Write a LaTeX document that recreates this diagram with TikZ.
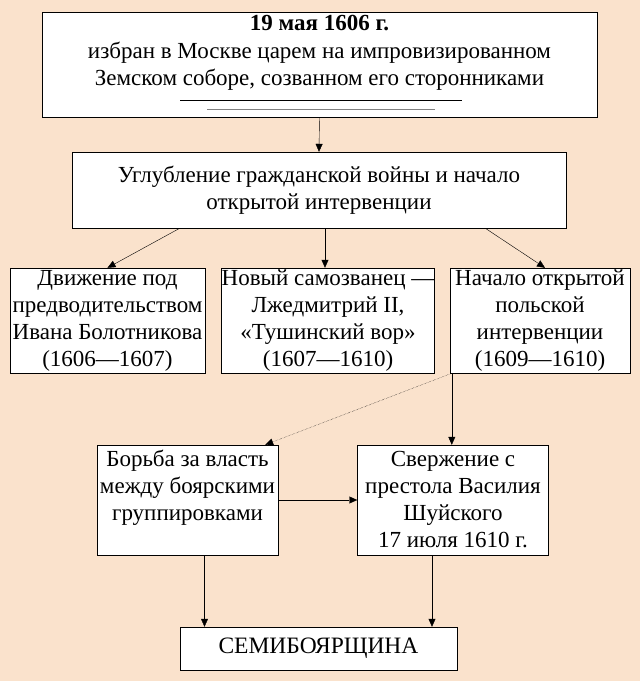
\documentclass[tikz,border=0pt]{standalone}
\usepackage{fontspec}
\setmainfont{Liberation Serif}
\usetikzlibrary{arrows.meta}
\definecolor{peach}{RGB}{250,226,204}
\tikzset{box/.style={draw,fill=white,align=center,inner sep=0pt,font=\fontsize{23}{27}\selectfont}}
\tikzset{link/.style={-{Triangle[length=8pt,width=7pt]},thin}}
\begin{document}
\begin{tikzpicture}[x=1pt,y=-1pt]
    \fill[peach] (0,0) rectangle (640,681);
    \useasboundingbox (0,0) rectangle (640,681);
    % boxes
    \node[box,minimum width=555,minimum height=105] (date) at (319.5,64.5) {};
    \node[font=\fontsize{23}{27.5}\selectfont,align=center] (datetext) at (319.5,53)
        {\textbf{19 мая 1606 г.}\\избран в Москве царем на импровизированном\\Земском соборе, созванном его сторонниками};
    \draw (180,100) -- (462,100);
    \draw[gray,thick] (207,109) -- (435,109);
    \node[box,minimum width=494,minimum height=76] (war) at (319,190)
        {Углубление гражданской войны и начало\\открытой интервенции};
    \node[box,minimum width=195,minimum height=105] (bolot) at (107.5,320.5)
        {Движение под\\предводительством\\Ивана Болотникова\\(1606—1607)};
    \node[box,minimum width=208,minimum height=105] (lzhe) at (328,320.5)
        {Новый самозванец —\\Лжедмитрий II,\\«Тушинский вор»\\(1607—1610)};
    \node[box,minimum width=180,minimum height=105] (polsk) at (540,320.5)
        {Начало открытой\\польской\\интервенции\\(1609—1610)};
    \node[box,minimum width=181,minimum height=110] (boyar) at (187.5,500) {};
    \node[font=\fontsize{23}{27}\selectfont,align=center] (boyartext) at (187.5,488)
        {Борьба за власть\\между боярскими\\группировками};
    \node[box,minimum width=191,minimum height=110] (shuj) at (453,500)
        {Свержение с\\престола Василия\\Шуйского\\17 июля 1610 г.};
    \node[box,minimum width=277,minimum height=43,font=\fontsize{23.5}{27}\selectfont] (semi) at (318.5,648.5)
        {СЕМИБОЯРЩИНА};
    % connectors
    \draw[link] (date.south) -- (war.north);
    \draw[link] ([xshift=108]war.south west) -- (bolot.north);
    \draw[link] ([xshift=6]war.south) -- ([xshift=-3]lzhe.north);
    \draw[link] ([xshift=-81]war.south east) -- ([xshift=5]polsk.north);
    \coordinate (p1) at ([xshift=2]polsk.south west);
    \draw[link] (p1) -- (p1 |- shuj.north);
    \draw[link,densely dotted] (p1) -- ([xshift=-13]boyar.north east);
    \draw[link] (boyar.east) -- (shuj.west);
    \coordinate (b1) at ([xshift=17]boyar.south);
    \draw[link] (b1) -- (b1 |- semi.north);
    \coordinate (s1) at ([xshift=-21]shuj.south);
    \draw[link] (s1) -- (s1 |- semi.north);
\end{tikzpicture}
\end{document}
